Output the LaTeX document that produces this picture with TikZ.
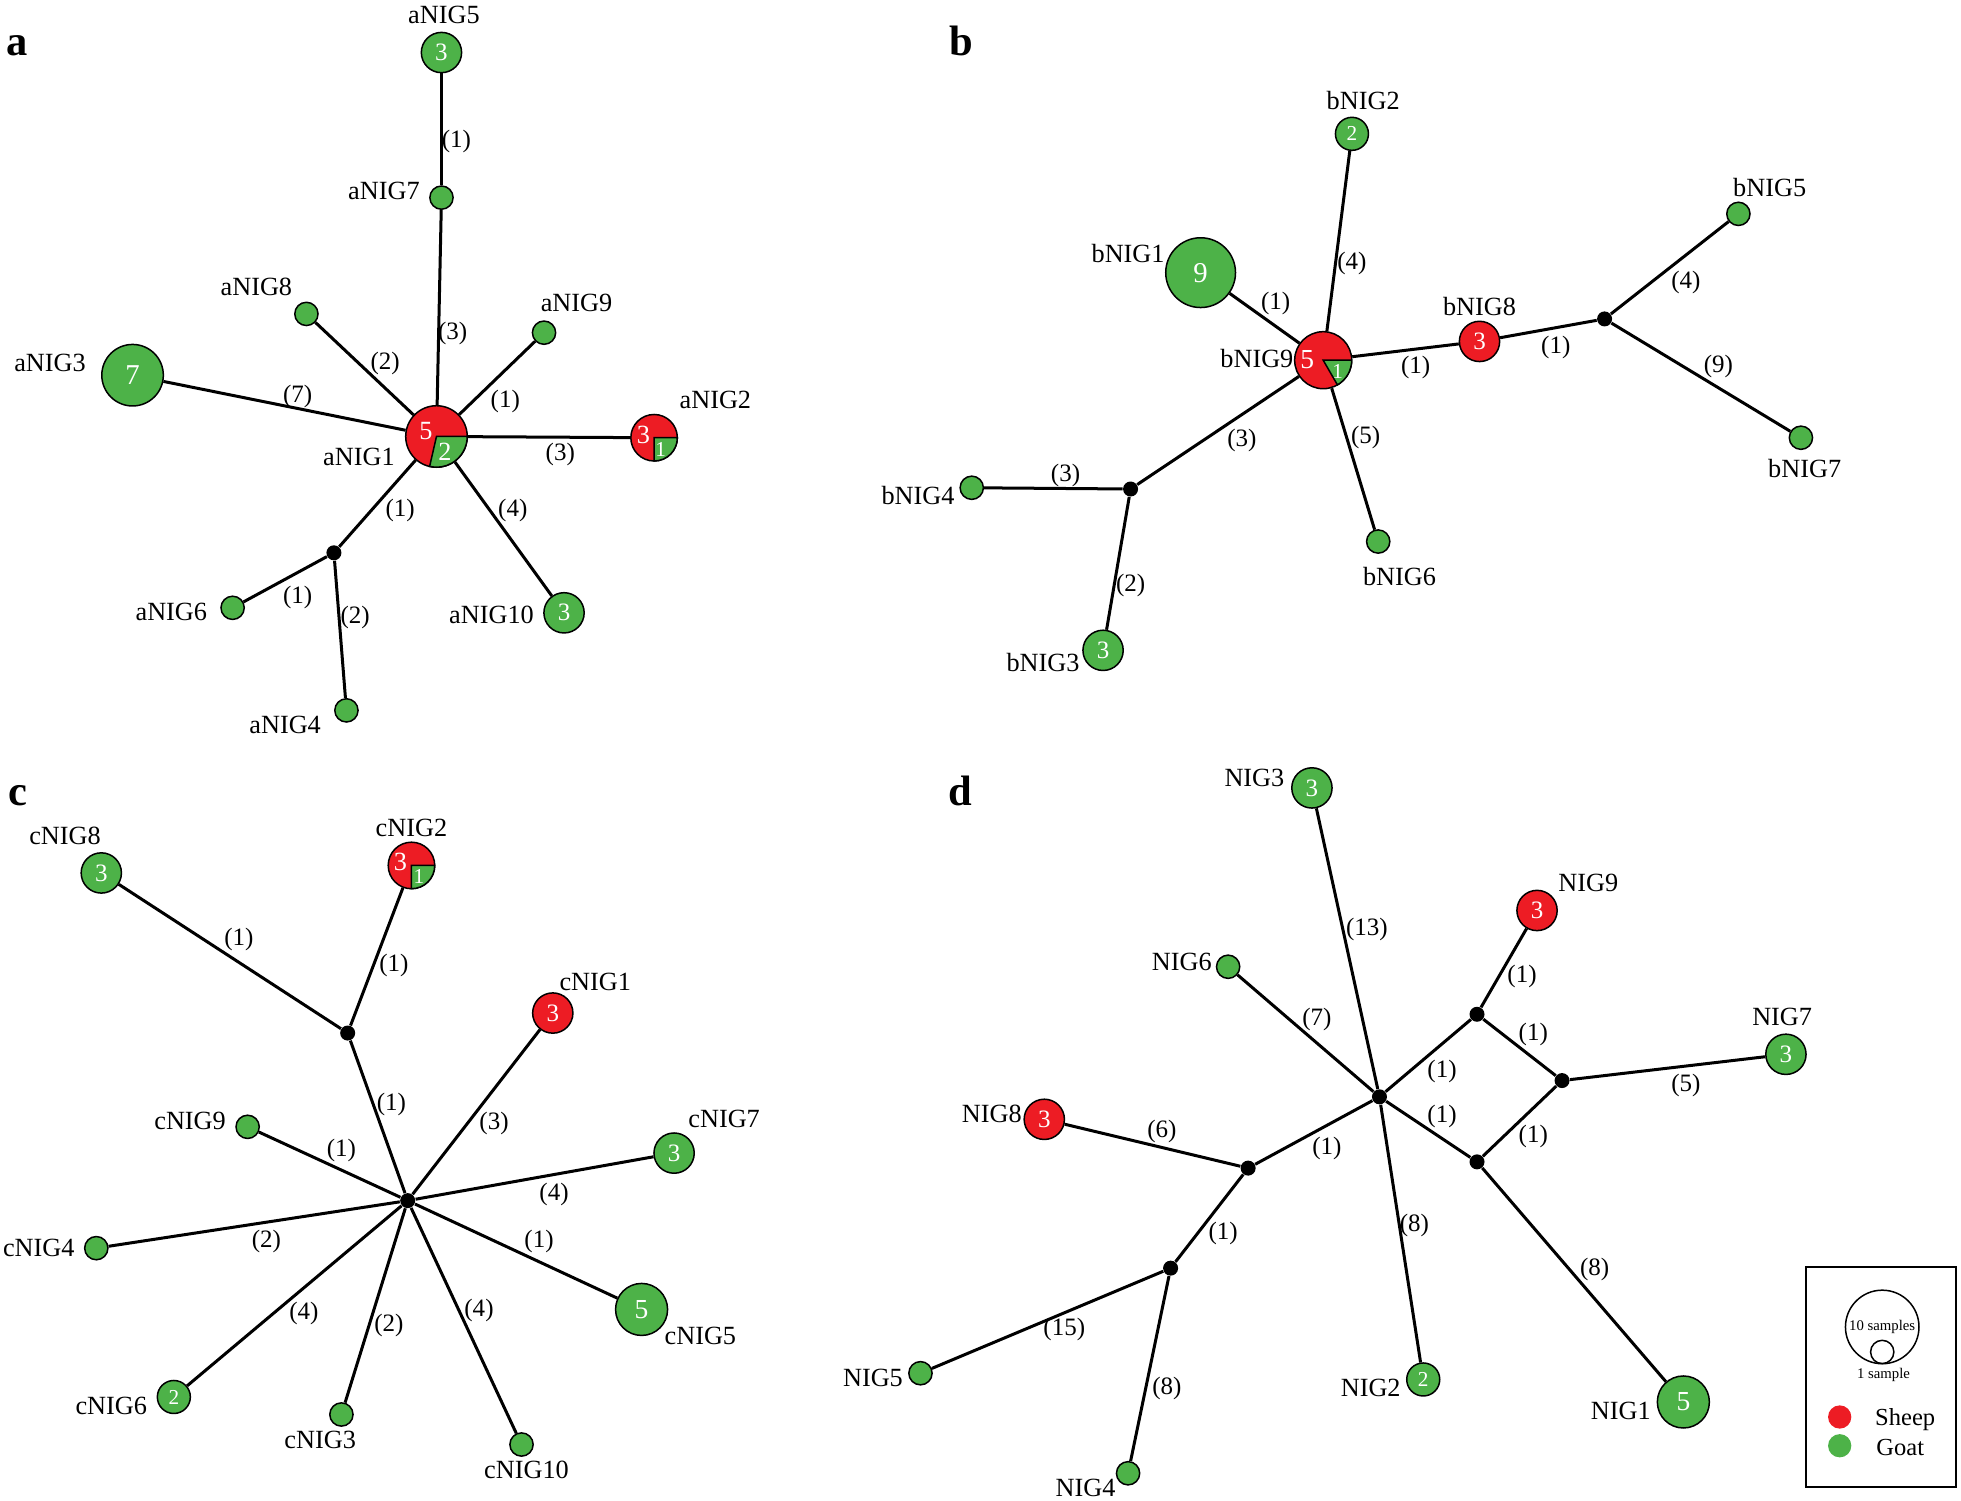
\documentclass[tikz,border=0pt]{standalone}
\usepackage{fontspec}
\setmainfont{Liberation Serif}
\usepackage{xcolor}
\definecolor{sheepred}{RGB}{237,28,36}
\definecolor{goatgreen}{RGB}{77,178,72}

\begin{document}
\begin{tikzpicture}[x=0.5pt,y=0.5pt,yscale=-1,xscale=1,
  hap/.style={circle,draw=black,line width=0.6pt,fill=goatgreen,inner sep=0pt,text=white,minimum size=#1},
  n1/.style={hap=9.3pt},
  n2/.style={hap=13.2pt,font=\fontsize{8.5}{8.5}\selectfont},
  n3/.style={hap=16.1pt,font=\fontsize{10}{10}\selectfont},
  n5/.style={hap=20.8pt,font=\fontsize{11}{11}\selectfont},
  n7/.style={hap=24.6pt,font=\fontsize{11.5}{11.5}\selectfont},
  n9/.style={hap=27.9pt,font=\fontsize{11.5}{11.5}\selectfont},
  ewe/.style={fill=sheepred},
  mv/.style={circle,fill=black,inner sep=0pt,minimum size=6pt},
  tag/.style={inner sep=0.75pt,font=\fontsize{10.5}{11}\selectfont},
  steps/.style={inner sep=0.75pt,font=\fontsize{10}{11}\selectfont},
  num/.style={text=white,inner sep=0pt,font=\fontsize{#1}{#1}\selectfont},
  link/.style={line width=1.2pt},
  wedge/.style={fill=goatgreen,draw=black,line width=0.6pt},
  panel/.style={anchor=base west,inner sep=0pt,font=\fontsize{17}{17}\selectfont\bfseries}]
\useasboundingbox (0,0) rectangle (1568,1200);

% ---------------- panel a ----------------
\node[panel] (pa) at (5,44) {a};
\node[n3] (aNIG5) at (353,42) {3};
\node[n1] (aNIG7) at (353,158) {};
\node[hap=24.6pt,ewe] (aNIG1) at (349,349) {};
\node[n1] (aNIG8) at (245,251) {};
\node[n1] (aNIG9) at (435,266) {};
\node[n7] (aNIG3) at (106,300) {7};
\node[hap=18.6pt,ewe] (aNIG2) at (523,350) {};
\node[n3] (aNIG10) at (451,490) {3};
\node[mv] (ma1) at (267,442) {};
\node[n1] (aNIG6) at (186,486) {};
\node[n1] (aNIG4) at (277,568) {};

\draw[link] (aNIG5) -- (aNIG7);
\draw[link] (aNIG7) -- (aNIG1);
\draw[link] (aNIG8) -- (aNIG1);
\draw[link] (aNIG9) -- (aNIG1);
\draw[link] (aNIG3) -- (aNIG1);
\draw[link] (aNIG1) -- (aNIG2);
\draw[link] (aNIG1) -- (aNIG10);
\draw[link] (aNIG1) -- (ma1);
\draw[link] (ma1) -- (aNIG6);
\draw[link] (ma1) -- (aNIG4);

% pies
\filldraw[wedge] (aNIG1.center) -- ++(0:12.3pt) arc[start angle=0,end angle=102.9,radius=12.3pt] -- cycle;
\node[num=10.5] (aNIG1r) at (340.5,345) {5};
\node[num=10.5] (aNIG1g) at (355.7,361) {2};
\filldraw[wedge] (aNIG2.center) -- ++(0:9.3pt) arc[start angle=0,end angle=90,radius=9.3pt] -- cycle;
\node[num=10.5] (aNIG2r) at (514.5,348) {3};
\node[num=8.5] (aNIG2g) at (528.3,359.6) {1};

% Text Node
\node[tag] (taNIG5) at (355,12) {aNIG5};
\node[tag] (taNIG7) at (307,153) {aNIG7};
\node[tag] (taNIG1) at (287,365) {aNIG1};
\node[tag] (taNIG8) at (205,229) {aNIG8};
\node[tag] (taNIG9) at (461,242) {aNIG9};
\node[tag] (taNIG3) at (40,290) {aNIG3};
\node[tag] (taNIG2) at (572,320) {aNIG2};
\node[tag] (taNIG10) at (393,492) {aNIG10};
\node[tag] (taNIG6) at (137,489) {aNIG6};
\node[tag] (taNIG4) at (228,580) {aNIG4};

\node[steps] (sa1) at (365,113) {(1)};
\node[steps] (sa2) at (362,267) {(3)};
\node[steps] (sa3) at (308,291) {(2)};
\node[steps] (sa4) at (404,321) {(1)};
\node[steps] (sa5) at (238,317) {(7)};
\node[steps] (sa6) at (448,363) {(3)};
\node[steps] (sa7) at (410,408) {(4)};
\node[steps] (sa8) at (320,408) {(1)};
\node[steps] (sa9) at (238,478) {(1)};
\node[steps] (sa10) at (284,494) {(2)};

% ---------------- panel b ----------------
\node[panel] (pb) at (759,44) {b};
\node[n2] (bNIG2) at (1081,107) {2};
\node[n9] (bNIG1) at (960,218) {9};
\node[hap=22.8pt,ewe] (bNIG9) at (1058,288) {};
\node[n3,ewe] (bNIG8) at (1183,273) {3};
\node[mv] (mb1) at (1283,255) {};
\node[n1] (bNIG5) at (1390,171) {};
\node[n1] (bNIG7) at (1440,350) {};
\node[n1] (bNIG6) at (1102,433) {};
\node[mv] (mb2) at (904,391) {};
\node[n1] (bNIG4) at (777,390) {};
\node[n3] (bNIG3) at (882,520) {3};

\draw[link] (bNIG2) -- (bNIG9);
\draw[link] (bNIG1) -- (bNIG9);
\draw[link] (bNIG9) -- (bNIG8);
\draw[link] (bNIG8) -- (mb1);
\draw[link] (mb1) -- (bNIG5);
\draw[link] (mb1) -- (bNIG7);
\draw[link] (bNIG9) -- (bNIG6);
\draw[link] (bNIG9) -- (mb2);
\draw[link] (mb2) -- (bNIG4);
\draw[link] (mb2) -- (bNIG3);

\filldraw[wedge] (bNIG9.center) -- ++(0:11.4pt) arc[start angle=0,end angle=60,radius=11.4pt] -- cycle;
\node[num=11] (bNIG9r) at (1045.2,287.5) {5};
\node[num=8.5] (bNIG9g) at (1069.5,297.3) {1};

% Text Node
\node[tag] (tbNIG2) at (1090,80) {bNIG2};
\node[tag] (tbNIG1) at (902,203) {bNIG1};
\node[tag] (tbNIG9) at (1005,287) {bNIG9};
\node[tag] (tbNIG8) at (1183,245) {bNIG8};
\node[tag] (tbNIG5) at (1415,150) {bNIG5};
\node[tag] (tbNIG7) at (1443,375) {bNIG7};
\node[tag] (tbNIG6) at (1119,461) {bNIG6};
\node[tag] (tbNIG4) at (734,396) {bNIG4};
\node[tag] (tbNIG3) at (834,530) {bNIG3};

\node[steps] (sb1) at (1081,211) {(4)};
\node[steps] (sb2) at (1020,243) {(1)};
\node[steps] (sb3) at (1132,294) {(1)};
\node[steps] (sb4) at (1244,278) {(1)};
\node[steps] (sb5) at (1348,226) {(4)};
\node[steps] (sb6) at (1374,293) {(9)};
\node[steps] (sb7) at (1092,350) {(5)};
\node[steps] (sb8) at (993,352) {(3)};
\node[steps] (sb9) at (852,380) {(3)};
\node[steps] (sb10) at (904,468) {(2)};

% ---------------- panel c ----------------
\node[panel] (pc) at (6,644) {c};
\node[n3] (cNIG8) at (81,698) {3};
\node[hap=18.6pt,ewe] (cNIG2) at (329,692) {};
\node[mv] (mc1) at (278,826) {};
\node[mv] (mc0) at (326,960) {};
\node[n3,ewe] (cNIG1) at (442,810) {3};
\node[n1] (cNIG9) at (198,901) {};
\node[n3] (cNIG7) at (539,922) {3};
\node[n1] (cNIG4) at (77,998) {};
\node[n5] (cNIG5) at (513,1047) {5};
\node[n2] (cNIG6) at (139,1117) {2};
\node[n1] (cNIG3) at (273,1131) {};
\node[n1] (cNIG10) at (417,1155) {};

\draw[link] (cNIG8) -- (mc1);
\draw[link] (cNIG2) -- (mc1);
\draw[link] (mc1) -- (mc0);
\draw[link] (mc0) -- (cNIG1);
\draw[link] (mc0) -- (cNIG9);
\draw[link] (mc0) -- (cNIG7);
\draw[link] (mc0) -- (cNIG4);
\draw[link] (mc0) -- (cNIG5);
\draw[link] (mc0) -- (cNIG6);
\draw[link] (mc0) -- (cNIG3);
\draw[link] (mc0) -- (cNIG10);

\filldraw[wedge] (cNIG2.center) -- ++(0:9.3pt) arc[start angle=0,end angle=90,radius=9.3pt] -- cycle;
\node[num=10.5] (cNIG2r) at (320.2,689) {3};
\node[num=8.5] (cNIG2g) at (334.9,701) {1};

% Text Node
\node[tag] (tcNIG8) at (52,668) {cNIG8};
\node[tag] (tcNIG2) at (329,662) {cNIG2};
\node[tag] (tcNIG1) at (476,785) {cNIG1};
\node[tag] (tcNIG9) at (152,896) {cNIG9};
\node[tag] (tcNIG7) at (579,895) {cNIG7};
\node[tag] (tcNIG4) at (31,998) {cNIG4};
\node[tag] (tcNIG5) at (560,1068) {cNIG5};
\node[tag] (tcNIG6) at (89,1124) {cNIG6};
\node[tag] (tcNIG3) at (256,1151) {cNIG3};
\node[tag] (tcNIG10) at (421,1175) {cNIG10};

\node[steps] (sc1) at (191,751) {(1)};
\node[steps] (sc2) at (315,772) {(1)};
\node[steps] (sc3) at (313,883) {(1)};
\node[steps] (sc4) at (395,898) {(3)};
\node[steps] (sc5) at (273,920) {(1)};
\node[steps] (sc6) at (443,955) {(4)};
\node[steps] (sc7) at (213,993) {(2)};
\node[steps] (sc8) at (431,993) {(1)};
\node[steps] (sc9) at (243,1050) {(4)};
\node[steps] (sc10) at (311,1060) {(2)};
\node[steps] (sc11) at (383,1048) {(4)};

% ---------------- panel d ----------------
\node[panel] (pd) at (758,644) {d};
\node[n3] (NIG3) at (1049,630) {3};
\node[mv] (md0) at (1103,877) {};
\node[n1] (NIG6) at (982,773) {};
\node[n3,ewe] (NIG9) at (1229,728) {3};
\node[mv] (md1) at (1181,811) {};
\node[mv] (md2) at (1249,864) {};
\node[mv] (md3) at (1181,929) {};
\node[n3] (NIG7) at (1428,843) {3};
\node[n5] (NIG1) at (1346,1121) {5};
\node[n2] (NIG2) at (1138,1103) {2};
\node[mv] (md4) at (998,934) {};
\node[n3,ewe] (NIG8) at (835,895) {3};
\node[mv] (md5) at (936,1014) {};
\node[n1] (NIG5) at (736,1098) {};
\node[n1] (NIG4) at (902,1178) {};

\draw[link] (NIG3) -- (md0);
\draw[link] (NIG6) -- (md0);
\draw[link] (NIG9) -- (md1);
\draw[link] (md0) -- (md1);
\draw[link] (md1) -- (md2);
\draw[link] (md0) -- (md3);
\draw[link] (md3) -- (md2);
\draw[link] (md2) -- (NIG7);
\draw[link] (md3) -- (NIG1);
\draw[link] (md0) -- (NIG2);
\draw[link] (md0) -- (md4);
\draw[link] (NIG8) -- (md4);
\draw[link] (md4) -- (md5);
\draw[link] (md5) -- (NIG5);
\draw[link] (md5) -- (NIG4);

% Text Node
\node[tag] (tNIG3) at (1003,622) {NIG3};
\node[tag] (tNIG6) at (945,769) {NIG6};
\node[tag] (tNIG9) at (1270,706) {NIG9};
\node[tag] (tNIG7) at (1425,813) {NIG7};
\node[tag] (tNIG1) at (1296,1128) {NIG1};
\node[tag] (tNIG2) at (1096,1110) {NIG2};
\node[tag] (tNIG8) at (793,891) {NIG8};
\node[tag] (tNIG5) at (698,1102) {NIG5};
\node[tag] (tNIG4) at (868,1190) {NIG4};

\node[steps] (sd1) at (1093,743) {(13)};
\node[steps] (sd2) at (1053,815) {(7)};
\node[steps] (sd3) at (1217,781) {(1)};
\node[steps] (sd4) at (1226,827) {(1)};
\node[steps] (sd5) at (1226,909) {(1)};
\node[steps] (sd6) at (1153,857) {(1)};
\node[steps] (sd7) at (1153,893) {(1)};
\node[steps] (sd8) at (1348,868) {(5)};
\node[steps] (sd9) at (1275,1015) {(8)};
\node[steps] (sd10) at (1131,980) {(8)};
\node[steps] (sd11) at (1061,918) {(1)};
\node[steps] (sd12) at (929,905) {(6)};
\node[steps] (sd13) at (978,986) {(1)};
\node[steps] (sd14) at (851,1063) {(15)};
\node[steps] (sd15) at (933,1110) {(8)};

% ---------------- legend ----------------
\draw[line width=0.8pt] (1444,1013) rectangle (1564,1189);
\node[circle,draw,line width=0.6pt,inner sep=0pt,minimum size=29.4pt,font=\fontsize{5.9}{6}\selectfont] (tenS) at (1505,1061) {10 samples};
\node[circle,draw,line width=0.6pt,inner sep=0pt,minimum size=9.3pt] (oneS) at (1505,1081) {};
\node[inner sep=0.5pt,font=\fontsize{5.9}{6}\selectfont] (oneT) at (1506,1099) {1 sample};
\node[circle,fill=sheepred,inner sep=0pt,minimum size=9.3pt] (keyS) at (1471,1133) {};
\node[circle,fill=goatgreen,inner sep=0pt,minimum size=9.3pt] (keyG) at (1471,1156) {};
\node[anchor=west,inner sep=0pt,font=\fontsize{9.8}{10}\selectfont] (keyST) at (1499,1135) {Sheep};
\node[anchor=west,inner sep=0pt,font=\fontsize{9.8}{10}\selectfont] (keyGT) at (1500,1157) {Goat};

\end{tikzpicture}
\end{document}
